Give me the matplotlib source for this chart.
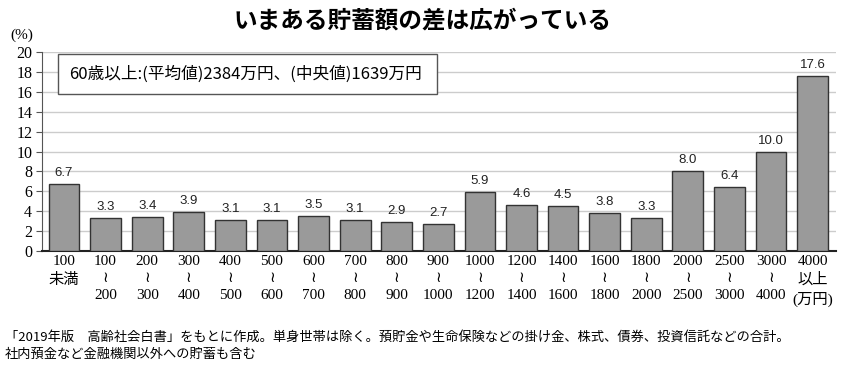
import matplotlib.pyplot as plt
from matplotlib.patches import Rectangle

plt.rcParams['font.family'] = ['Noto Sans CJK JP', 'DejaVu Sans']

# bracket bounds (万円)
lower = ['100', '200', '300', '400', '500', '600', '700', '800', '900',
         '1000', '1200', '1400', '1600', '1800', '2000', '2500', '3000']
upper = ['200', '300', '400', '500', '600', '700', '800', '900', '1000',
         '1200', '1400', '1600', '1800', '2000', '2500', '3000', '4000']
values = [6.7, 3.3, 3.4, 3.9, 3.1, 3.1, 3.5, 3.1, 2.9, 2.7,
          5.9, 4.6, 4.5, 3.8, 3.3, 8.0, 6.4, 10.0, 17.6]

labels = (['100\n未満\n'] + [f'{a}\n≀\n{b}' for a, b in zip(lower, upper)]
          + ['4000\n以上\n(万円)'])

title = 'いまある貯蓄額の差は広がっている'
note = '60歳以上:(平均値)2384万円、(中央値)1639万円'
footnote = ('「2019年版　高齢社会白書」をもとに作成。単身世帯は除く。預貯金や生命保険などの掛け金、株式、債券、投資信託などの合計。\n'
            '社内預金など金融機関以外への貯蓄も含む')

serif = ['Liberation Serif', 'DejaVu Sans', 'Noto Sans CJK JP']

fig = plt.figure(figsize=(8.46, 3.7), dpi=100)
ax = fig.add_axes([0.0496, 0.3216, 0.9385, 0.5378])

x = list(range(len(values)))
ax.bar(x, values, width=0.74, color='#9a9a9a', edgecolor='#333333', linewidth=1.0, zorder=3)
for i, v in zip(x, values):
    ax.text(i, v + 0.5, f'{v:.1f}', ha='center', va='bottom', fontsize=9.5,
            family=['Liberation Sans', 'DejaVu Sans'], color='#222222')

ax.set_xlim(-0.53, len(values) - 1 + 0.56)
ax.set_ylim(0, 20)
ax.set_yticks(range(0, 21, 2))
ax.set_yticklabels([str(t) for t in range(0, 21, 2)], family=serif, fontsize=11.5)
ax.yaxis.grid(True, color='#cccccc', linewidth=1.0, zorder=0)
ax.set_xticks(x)
ax.set_xticklabels(labels, family=serif, fontsize=11, linespacing=1.4)
ax.tick_params(axis='x', length=0, pad=3)
ax.tick_params(axis='y', length=4, width=0.8, color='#555555', pad=3)
for s in ['top', 'right']:
    ax.spines[s].set_visible(False)
ax.spines['left'].set_color('#555555')
ax.spines['bottom'].set_linewidth(1.5)
ax.spines['bottom'].set_color('#222222')

box = Rectangle((0.02, 0.79), 0.477, 0.2, transform=ax.transAxes, facecolor='white',
                edgecolor='#555555', linewidth=1.0, zorder=4)
ax.add_patch(box)
ax.text(0.034, 0.89, note, transform=ax.transAxes, fontsize=12, va='center', ha='left', zorder=5)

fig.text(0.5, 0.945, title, ha='center', va='center', fontsize=17, fontweight='bold')
fig.text(0.012, 0.905, '(%)', ha='left', va='center', fontsize=11, family=serif)
fig.text(0.006, 0.025, footnote, ha='left', va='bottom', fontsize=9.5, linespacing=1.35)

fig.savefig('out.png', dpi=100)
